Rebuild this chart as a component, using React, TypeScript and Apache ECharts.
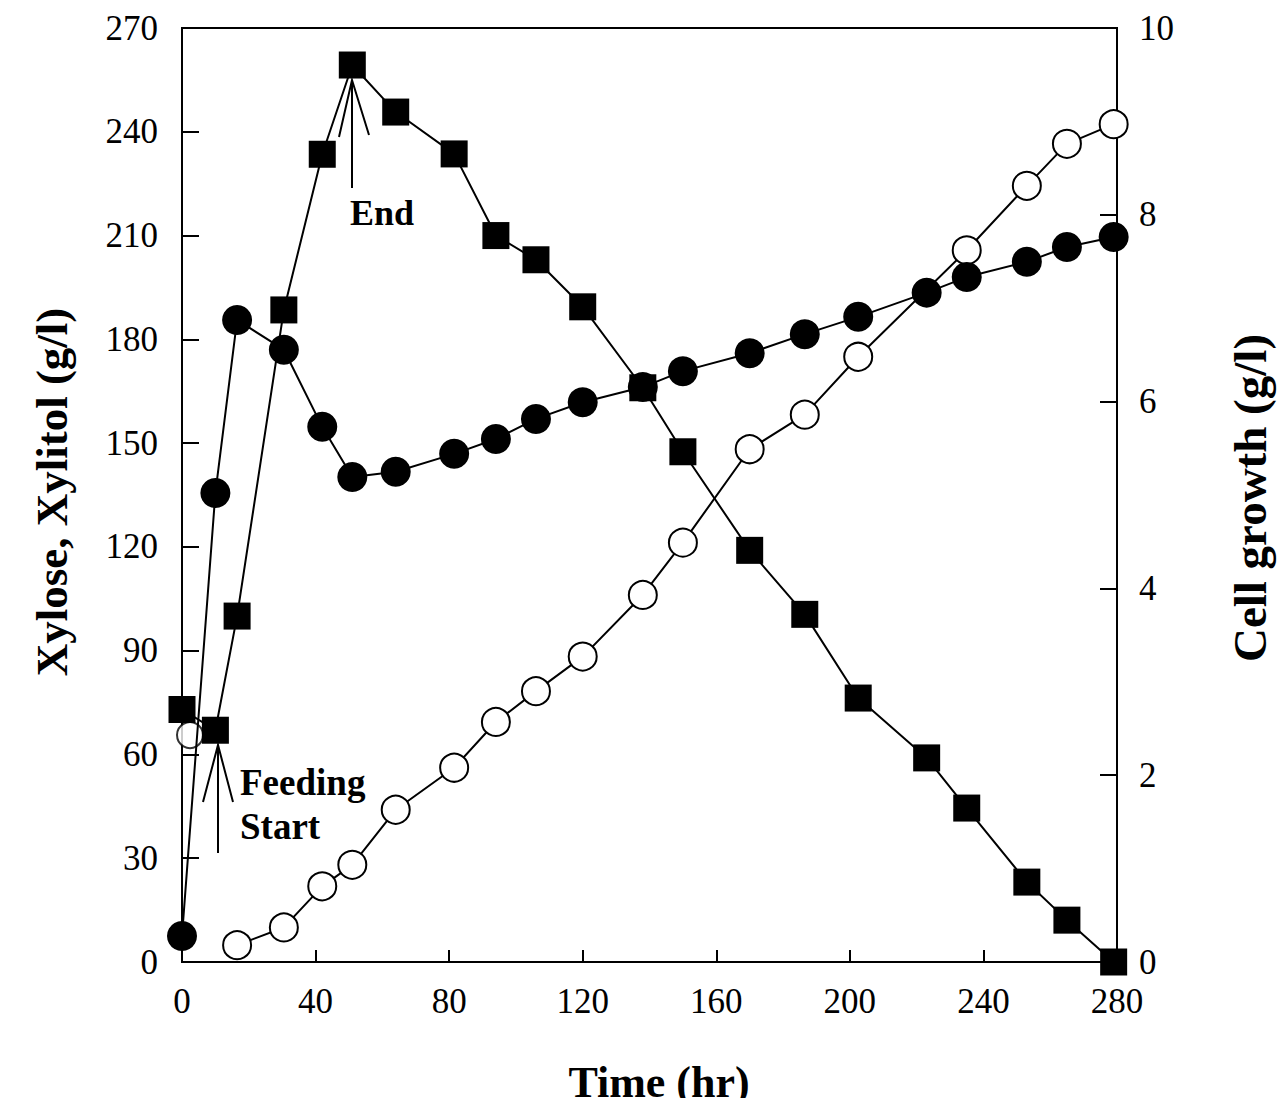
import React, { useEffect, useRef } from "react";
import * as echarts from "echarts";

// Time (hr) of each sample
const time = [0, 10, 16.5, 30.5, 42, 51, 64, 81.5, 94, 106, 120, 138, 150, 170, 186.5, 202.5, 223, 235, 253, 265, 279];
// Xylose (g/l) - filled squares, left axis
const xylose = [73, 67, 100, 188.5, 233.5, 259.3, 245.7, 233.6, 210, 203, 189.4, 166, 147.5, 119, 100.5, 76.3, 59, 44.5, 23.1, 12.1, 0];
// Xylitol (g/l) - filled circles, left axis
const xylitol = [7.5, 135.6, 185.6, 177, 154.7, 140.2, 141.7, 146.9, 151.2, 157, 161.8, 166.2, 170.8, 176, 181.5, 186.5, 193.5, 198, 202.4, 206.7, 209.6];
// Cell growth (g/l) - open circles, right axis
const cellTime = [16.5, 30.5, 42, 51, 64, 81.5, 94, 106, 120, 138, 150, 170, 186.5, 202.5, 235, 253, 265, 279];
const cellGrowth = [0.18, 0.37, 0.81, 1.04, 1.63, 2.08, 2.57, 2.9, 3.27, 3.93, 4.49, 5.49, 5.86, 6.48, 7.62, 8.31, 8.76, 8.97];
// isolated open circle near the origin
const extraCellTime = [2.4];
const extraCell = [2.43];

const xTicks = { min: 0, max: 280, interval: 40 };
const leftTicks = { min: 0, max: 270, interval: 30 };
const rightTicks = { min: 0, max: 10, interval: 2 };

const FONT = "'Liberation Serif', 'DejaVu Serif', serif";

export default function App() {
  const ref = useRef<HTMLDivElement>(null);
  useEffect(() => {
    if (!ref.current) return;
    const chart = echarts.init(ref.current, undefined, { renderer: "svg" });
    const zip = (xs: number[], ys: number[]) => xs.map((x, i) => [x, ys[i]]);
    const axisCommon = {
      axisLine: { show: true, lineStyle: { color: "#000", width: 2 } },
      axisTick: { show: true, inside: true, lineStyle: { color: "#000", width: 2 } },
      axisLabel: { color: "#000", fontFamily: FONT, fontSize: 35 },
      splitLine: { show: false },
    };
    chart.setOption({
      animation: false,
      backgroundColor: "#fff",
      grid: { left: 182, right: 168, top: 28, bottom: 144, show: true, borderColor: "#000", borderWidth: 2, backgroundColor: "transparent" },
      xAxis: {
        type: "value",
        ...xTicks,
        ...axisCommon,
        axisTick: { ...axisCommon.axisTick, length: 12 },
        axisLabel: { ...axisCommon.axisLabel, margin: 22 },
      },
      yAxis: [
        {
          type: "value",
          position: "left",
          ...leftTicks,
          ...axisCommon,
          axisTick: { ...axisCommon.axisTick, length: 17 },
          axisLabel: { ...axisCommon.axisLabel, margin: 24 },
        },
        {
          type: "value",
          position: "right",
          ...rightTicks,
          ...axisCommon,
          axisTick: { ...axisCommon.axisTick, length: 17 },
          axisLabel: { ...axisCommon.axisLabel, margin: 22 },
        },
      ],
      series: [
        {
          type: "scatter",
          yAxisIndex: 1,
          data: zip(extraCellTime, extraCell),
          symbol: "circle",
          symbolSize: 26,
          itemStyle: { color: "#fff", borderColor: "#000", borderWidth: 2 },
          z: 1,
        },
        {
          type: "line",
          yAxisIndex: 1,
          data: zip(cellTime, cellGrowth),
          symbol: "circle",
          symbolSize: 28,
          showAllSymbol: true,
          lineStyle: { color: "#000", width: 2 },
          itemStyle: { color: "#fff", borderColor: "#000", borderWidth: 2 },
          z: 2,
        },
        {
          type: "line",
          yAxisIndex: 0,
          data: zip(time, xylitol),
          symbol: "circle",
          symbolSize: 30,
          showAllSymbol: true,
          lineStyle: { color: "#000", width: 2 },
          itemStyle: { color: "#000", borderColor: "#000", borderWidth: 0 },
          z: 3,
        },
        {
          type: "line",
          yAxisIndex: 0,
          data: zip(time, xylose),
          symbol: "rect",
          symbolSize: 27,
          showAllSymbol: true,
          lineStyle: { color: "#000", width: 2 },
          itemStyle: { color: "#000", borderColor: "#000", borderWidth: 0 },
          z: 4,
        },
      ],
      graphic: [
        {
          type: "text",
          x: 52,
          y: 492,
          rotation: Math.PI / 2,
          style: { text: "Xylose, Xylitol (g/l)", fontFamily: FONT, fontSize: 45, fontWeight: "bold", fill: "#000", align: "center", verticalAlign: "middle" },
        },
        {
          type: "text",
          x: 1250,
          y: 498,
          rotation: Math.PI / 2,
          style: { text: "Cell growth (g/l)", fontFamily: FONT, fontSize: 47, fontWeight: "bold", fill: "#000", align: "center", verticalAlign: "middle" },
        },
        {
          type: "text",
          x: 659,
          y: 1082,
          style: { text: "Time (hr)", fontFamily: FONT, fontSize: 44, fontWeight: "bold", fill: "#000", align: "center", verticalAlign: "middle" },
        },
        {
          type: "text",
          x: 382,
          y: 213,
          style: { text: "End", fontFamily: FONT, fontSize: 36, fontWeight: "bold", fill: "#000", align: "center", verticalAlign: "middle" },
        },
        {
          type: "text",
          x: 240,
          y: 782,
          style: { text: "Feeding", fontFamily: FONT, fontSize: 37, fontWeight: "bold", fill: "#000", align: "left", verticalAlign: "middle" },
        },
        {
          type: "text",
          x: 240,
          y: 826,
          style: { text: "Start", fontFamily: FONT, fontSize: 37, fontWeight: "bold", fill: "#000", align: "left", verticalAlign: "middle" },
        },
        { type: "line", shape: { x1: 352, y1: 80, x2: 352, y2: 188 }, style: { stroke: "#000", lineWidth: 2 }, z: 10 },
        { type: "polyline", shape: { points: [[339, 137], [352, 80], [369, 135]] }, style: { stroke: "#000", lineWidth: 2, fill: "none" }, z: 10 },
        { type: "line", shape: { x1: 218, y1: 745, x2: 218, y2: 853 }, style: { stroke: "#000", lineWidth: 2 }, z: 10 },
        { type: "polyline", shape: { points: [[203, 802], [218, 745], [233, 802]] }, style: { stroke: "#000", lineWidth: 2, fill: "none" }, z: 10 },
      ],
    });
    return () => chart.dispose();
  }, []);
  return <div ref={ref} style={{ width: 1285, height: 1106, margin: -8 }} />;
}
